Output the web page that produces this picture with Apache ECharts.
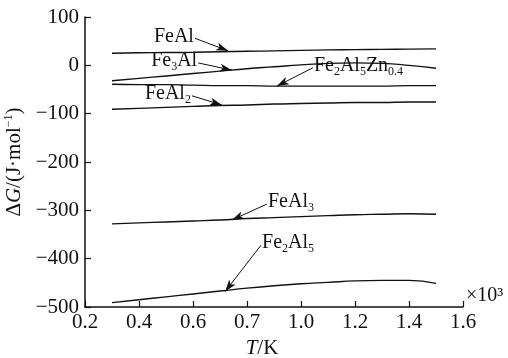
<!DOCTYPE html>
<html>
<head>
<meta charset="utf-8">
<script src="https://cdn.jsdelivr.net/npm/echarts@6/dist/echarts.min.js"></script>
<style>
  html, body { margin: 0; padding: 0; background: #fff; }
  #chart { width: 508px; height: 358px; }
</style>
</head>
<body>
<div id="chart"></div>
<script>
// temperature (x10^3 K)
const temps = [0.3, 0.4, 0.5, 0.6, 0.7, 0.8, 0.9, 1.0, 1.1, 1.2, 1.3, 1.4, 1.5]
const xTickLabels = ['0.2', '0.4', '0.6', '0.7', '1.0', '1.2', '1.4', '1.6']

// ΔG (J/mol)
const feAl = [25, 26, 26.5, 27, 28, 29, 30, 31, 32, 32.5, 33, 33.5, 34]
const fe3Al = [-32, -27, -22, -17, -12, -7, -3, 1, 4, 5, 4, 0, -6]
const fe2Al5Zn = [-39, -40, -40, -41, -42, -42, -43, -43, -43, -43, -43, -42, -42]
const feAl2 = [-91, -89, -87, -85, -83, -82, -80, -79, -78, -77, -77, -76, -76]
const feAl3 = [-328, -326, -324, -322, -320, -317, -315, -313, -311, -309, -308, -307, -308]
const fe2Al5 = [-491, -485, -479, -473, -467, -461, -456, -452, -449, -446, -445, -445, -451]

// label arrows: [textAnchor, arrowTip] in data units
const arrows = {
  feAl: [[0.607, 56], [0.73, 30]],
  fe3Al: [[0.619, 5], [0.744, -10]],
  fe2Al5Zn: [[1.044, -5], [0.911, -43]],
  feAl2: [[0.596, -63], [0.707, -82]],
  feAl3: [[0.874, -287], [0.744, -320]],
  fe2Al5: [[0.852, -372], [0.719, -468]]
}

const ink = '#111'
const serif = 'Liberation Serif'
const fs = 21
const sub = { fontSize: 12, fontFamily: serif, color: ink, padding: [12, 0, 0, 0] }

const chart = echarts.init(document.getElementById('chart'), null, { renderer: 'canvas' })

function pairs(ys) {
  return temps.map((t, i) => [t, ys[i]])
}

function curve(name, ys, arrow, text, side) {
  return {
    name,
    type: 'line',
    smooth: true,
    symbol: 'none',
    lineStyle: { color: ink, width: 1.4 },
    data: pairs(ys),
    markLine: {
      silent: true,
      symbol: ['none', 'arrow'],
      symbolSize: [6, 12],
      lineStyle: { color: ink, width: 1, type: 'solid' },
      label: { show: false },
      data: [[{ coord: arrow[0] }, { coord: arrow[1] }]]
    },
    markPoint: {
      silent: true,
      symbol: 'circle',
      symbolSize: 1,
      itemStyle: { color: 'rgba(0,0,0,0)' },
      label: {
        show: true,
        position: 'inside',
        formatter: text,
        align: side === 'left' ? 'right' : 'left',
        verticalAlign: 'middle',
        offset: [side === 'left' ? -1 : 1, -2],
        color: ink,
        fontFamily: serif,
        fontSize: 20,
        rich: { s: sub }
      },
      data: [{ coord: arrow[0] }]
    }
  }
}

chart.setOption({
  animation: false,
  grid: { left: 85, right: 45, top: 17, bottom: 51, outerBoundsMode: 'none' },
  xAxis: {
    type: 'value',
    min: 0.2,
    max: 1.6,
    interval: 0.2,
    name: '{i|T}/K',
    nameLocation: 'middle',
    nameGap: 31,
    nameTextStyle: {
      color: ink, fontFamily: serif, fontSize: fs, padding: [0, 24, 0, 0],
      rich: { i: { fontStyle: 'italic', fontFamily: serif, fontSize: fs, color: ink } }
    },
    axisLine: { onZero: false, lineStyle: { color: ink, width: 1.5 } },
    axisTick: { inside: true, length: 6, lineStyle: { color: ink, width: 1.2 } },
    axisLabel: {
      color: ink, fontFamily: serif, fontSize: fs, margin: 5,
      formatter: v => xTickLabels[Math.round((v - 0.2) / 0.2)]
    },
    splitLine: { show: false }
  },
  yAxis: {
    type: 'value',
    min: -500,
    max: 100,
    interval: 100,
    name: 'Δ{i|G}/(J·mol{p|−1})',
    nameLocation: 'middle',
    nameRotate: 90,
    nameGap: 58,
    nameTextStyle: {
      color: ink, fontFamily: serif, fontSize: fs,
      rich: {
        i: { fontStyle: 'italic', fontFamily: serif, fontSize: fs, color: ink },
        p: { fontSize: 12, fontFamily: serif, color: ink, padding: [0, 0, 11, 0] }
      }
    },
    axisLine: { onZero: false, lineStyle: { color: ink, width: 1.5 } },
    axisTick: { inside: true, length: 6, lineStyle: { color: ink, width: 1.2 } },
    axisLabel: {
      color: ink, fontFamily: serif, fontSize: fs, margin: 6,
      formatter: v => String(v).replace('-', '−')
    },
    splitLine: { show: false }
  },
  graphic: [{
    type: 'text',
    left: 466,
    top: 286,
    style: { text: '×10³', fill: ink, font: '20px "Liberation Serif"' }
  }],
  series: [
    curve('FeAl', feAl, arrows.feAl, 'FeAl', 'left'),
    curve('Fe3Al', fe3Al, arrows.fe3Al, 'Fe{s|3}Al', 'left'),
    curve('Fe2Al5Zn0.4', fe2Al5Zn, arrows.fe2Al5Zn, 'Fe{s|2}Al{s|5}Zn{s|0.4}', 'right'),
    curve('FeAl2', feAl2, arrows.feAl2, 'FeAl{s|2}', 'left'),
    curve('FeAl3', feAl3, arrows.feAl3, 'FeAl{s|3}', 'right'),
    curve('Fe2Al5', fe2Al5, arrows.fe2Al5, 'Fe{s|2}Al{s|5}', 'right')
  ]
})
</script>
</body>
</html>
